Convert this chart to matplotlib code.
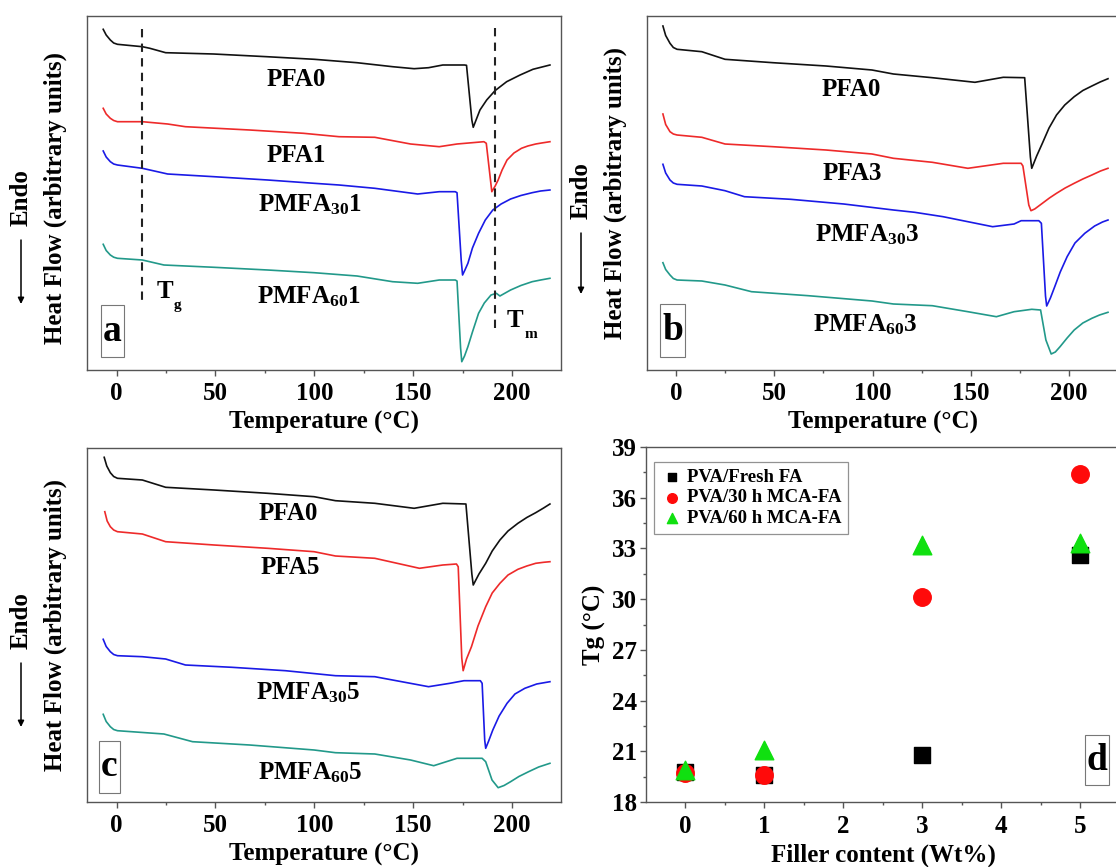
import matplotlib
matplotlib.use("Agg")
import matplotlib.pyplot as plt
from matplotlib.patches import Rectangle
from matplotlib.ticker import MultipleLocator

plt.rcParams.update({
    "font.family": ["Liberation Serif", "DejaVu Serif"],
    "font.weight": "bold",
    "axes.labelweight": "bold",
    "mathtext.fontset": "custom",
    "mathtext.rm": "Liberation Serif:bold",
    "mathtext.it": "Liberation Serif:bold",
    "mathtext.bf": "Liberation Serif:bold",
})

# ---------------- DSC thermograms (heat flow, arbitrary units, stacked) -------------
# Panel a
a_pfa0_T = [-6.8, -5.3, -3.2, -1.5, 0.4, 13, 16.8, 24.8, 49, 76, 100, 121.6, 139.6, 150.5, 157.8, 165,
            176, 177, 179.7, 180.4, 183.8, 187.2, 191.4, 197.3, 204.1, 210.6, 219.2]
a_pfa0_H = [34.07, 33.5, 33.0, 32.7, 32.57, 32.33, 32.17, 31.73, 31.6, 31.33, 31.07, 30.73, 30.33, 30.13,
            30.23, 30.5, 30.5, 30.47, 25.0, 24.27, 26.0, 27.0, 27.93, 28.83, 29.5, 30.07, 30.5]
a_pfa1_T = [-6.8, -5.3, -3.2, -1.5, 0.4, 13, 25.8, 34.8, 67.3, 94.5, 112.5, 130.6, 148.7, 163.2, 172.2,
            185.8, 187, 189.8, 191.5, 193, 195, 197.5, 201, 204.8, 208, 212, 215, 219.2]
a_pfa1_H = [26.17, 25.6, 25.17, 24.95, 24.83, 24.83, 24.6, 24.33, 24.0, 23.67, 23.33, 23.27, 22.6, 22.33,
            22.6, 22.83, 22.67, 17.83, 18.4, 19.0, 20.0, 21.0, 21.7, 22.17, 22.4, 22.6, 22.7, 22.83]
a_pm301_T = [-6.8, -5.3, -3.2, -1.5, 0.4, 13, 25.8, 49.3, 76.4, 99.9, 112.5, 130.6, 152.3, 163.2, 171.3,
             172.2, 174.3, 175, 176.2, 177.7, 180, 183.1, 186.5, 190.3, 194.5, 199.3, 204.5, 210.2,
             214.5, 219.2]
a_pm301_H = [21.9, 21.3, 20.83, 20.6, 20.5, 20.17, 19.6, 19.33, 19.0, 18.67, 18.5, 18.17, 17.6, 17.83,
             17.83, 17.73, 11.0, 9.5, 10.0, 10.67, 12.2, 13.67, 15.0, 16.0, 16.6, 17.1, 17.45, 17.73,
             17.9, 18.0]
a_pm601_T = [-6.8, -5.3, -3.2, -1.5, 0.4, 13, 23.9, 49.3, 76.4, 99.9, 121.6, 139.6, 152.3, 163.2, 171.3,
             172.2, 174.0, 174.6, 176, 177.7, 180, 183.1, 186, 189.4, 192.1, 193.9, 199.3, 204.5,
             210.2, 214.5, 219.2]
a_pm601_H = [12.57, 11.95, 11.5, 11.28, 11.17, 11.0, 10.5, 10.27, 10.0, 9.73, 9.4, 8.83, 8.67, 9.0,
             9.0, 8.9, 2.2, 0.83, 1.4, 2.33, 3.8, 5.67, 6.7, 7.5, 7.67, 7.4, 8.0, 8.45, 8.83, 9.0, 9.17]

# Panel b
b_pfa0_T = [-6.7, -5.3, -3.1, -1.4, 0.5, 13.1, 24.9, 49.3, 76.3, 99.7, 110.6, 130.4, 152.1, 166.5,
            177.4, 180.3, 181, 183.5, 186.4, 189.8, 193.6, 197.8, 202.6, 207, 211.6, 215.8, 219.8]
b_pfa0_H = [34.4, 33.45, 32.67, 32.25, 32.07, 31.83, 31.07, 30.73, 30.4, 30.0, 29.6, 29.23, 28.77, 29.27,
            29.23, 21.3, 20.17, 21.4, 22.67, 24.2, 25.5, 26.5, 27.33, 27.95, 28.4, 28.8, 29.13]
b_pfa3_T = [-6.7, -5.3, -3.1, -1.4, 0.5, 13.1, 24.9, 49.3, 76.3, 99.7, 110.6, 130.4, 148.5, 166.5,
            175.6, 176.5, 179.5, 180.6, 182.5, 186.4, 190, 193.6, 198, 202.6, 207, 211.6, 216, 219.8]
b_pfa3_H = [25.6, 24.55, 23.83, 23.6, 23.5, 23.27, 22.6, 22.33, 22.0, 21.6, 21.17, 20.77, 20.17, 20.67,
            20.67, 20.4, 16.5, 15.93, 16.1, 16.67, 17.2, 17.67, 18.2, 18.67, 19.1, 19.5, 19.9, 20.17]
b_pm303_T = [-6.7, -5.3, -3.1, -1.4, 0.5, 13.1, 24.9, 34.8, 58.3, 85.3, 110.6, 121.4, 135.9, 161.1, 172,
             175.6, 184.6, 185.9, 188.0, 188.6, 190.5, 192.7, 195.5, 199, 203, 208, 213, 217, 219.8]
b_pm303_H = [20.57, 19.7, 19.0, 18.7, 18.57, 18.4, 17.93, 17.33, 17.07, 16.6, 16.0, 15.77, 15.33, 14.33,
             14.6, 14.93, 14.93, 14.67, 7.4, 6.4, 7.2, 8.33, 9.8, 11.33, 12.7, 13.67, 14.4, 14.8, 15.0]
b_pm603_T = [-6.7, -5.3, -3.1, -1.4, 0.5, 13.1, 24.9, 38.4, 67.3, 99.7, 110.6, 130.4, 148.5, 163, 172,
             181, 185.5, 188.2, 190.9, 193, 195.4, 199, 202.6, 207, 211.6, 215.5, 219.8]
b_pm603_H = [10.73, 10.05, 9.5, 9.15, 9.0, 8.9, 8.5, 7.83, 7.43, 6.9, 6.6, 6.43, 5.83, 5.33, 5.83, 6.07,
             6.0, 3.0, 1.6, 1.8, 2.33, 3.2, 4.0, 4.7, 5.17, 5.5, 5.77]

# Panel c
c_pfa0_T = [-6.3, -5.0, -3.2, -1.5, 0.4, 13, 24.8, 49.3, 76.4, 99.9, 110.7, 130.6, 150.5, 165, 176.7,
            179.7, 180.4, 183.3, 186.7, 190, 193.9, 198, 203, 207.5, 212, 216, 219.2]
c_pfa0_H = [34.47, 33.6, 32.93, 32.55, 32.37, 32.2, 31.47, 31.2, 30.87, 30.53, 30.13, 29.87, 29.37,
            29.87, 29.8, 22.8, 21.7, 22.8, 23.87, 25.1, 26.2, 27.1, 27.87, 28.45, 28.93, 29.4, 29.8]
c_pfa5_T = [-6.0, -4.8, -3.2, -1.5, 0.4, 13, 24.8, 49.3, 76.4, 99.9, 110.7, 130.6, 153.2, 165, 171.9,
            172.8, 174.6, 175.3, 177, 179.5, 182.8, 186.7, 190, 193.9, 198, 203, 207.5, 212, 216, 219.2]
c_pfa5_H = [29.03, 28.1, 27.53, 27.2, 27.03, 26.8, 26.03, 25.7, 25.37, 25.03, 24.6, 24.37, 23.37, 23.7,
            23.8, 23.53, 14.4, 13.13, 14.3, 15.53, 17.6, 19.53, 20.9, 21.87, 22.7, 23.27, 23.6, 23.87,
            23.97, 24.03]
c_pm305_T = [-6.8, -5.3, -3.2, -1.5, 0.4, 13, 24.8, 34.8, 58.3, 85.4, 110.7, 130.6, 157.8, 168.6, 175.7,
             184, 184.9, 186.2, 186.7, 188.2, 190.3, 193.5, 197.5, 201.5, 206.5, 212.5, 219.2]
c_pm305_H = [16.27, 15.55, 15.03, 14.75, 14.63, 14.53, 14.3, 13.7, 13.47, 13.13, 12.63, 12.53, 11.53,
             11.87, 12.13, 12.13, 11.87, 6.2, 5.37, 6.1, 7.2, 8.6, 9.87, 10.8, 11.37, 11.8, 12.03]
c_pm605_T = [-6.8, -5.3, -3.2, -1.5, 0.4, 23.9, 38.4, 67.3, 99.9, 110.7, 130.6, 148.7, 160.4, 172.2,
             184.9, 186.7, 189.9, 193, 196, 199.3, 203.5, 208.4, 213.5, 219.2]
c_pm605_H = [8.77, 8.05, 7.53, 7.25, 7.13, 6.8, 6.03, 5.7, 5.2, 4.93, 4.8, 4.2, 3.63, 4.37, 4.37, 4.03,
             2.2, 1.43, 1.65, 2.03, 2.55, 3.03, 3.5, 3.87]

# Transition markers in panel a
tg_temp = 13.0
tm_temp = 191.3

# ---------------- Tg vs filler content -------------
filler = [0, 1, 3, 5]
tg_fresh = [19.8, 19.6, 20.8, 32.6]
tg_mca30 = [19.7, 19.6, 30.1, 37.4]
tg_mca60 = [19.9, 21.1, 33.2, 33.3]
legend_labels = ["PVA/Fresh FA", "PVA/30 h MCA-FA", "PVA/60 h MCA-FA"]

C_BLACK, C_RED, C_BLUE, C_TEAL = "#111111", "#ee2a2a", "#1a1ae6", "#22998a"
SPINE = "#555555"

W, H = 1116, 867
fig = plt.figure(figsize=(W / 100, H / 100), dpi=100)


def rect(l, t, r, b):
    return [l / W, 1 - b / H, (r - l) / W, (b - t) / H]


def style_dsc(ax, x0, x1, hide_right=False):
    ax.set_xlim(x0, x1)
    ax.set_ylim(0, 35.4)
    ax.set_yticks([])
    ax.xaxis.set_major_locator(MultipleLocator(50))
    ax.xaxis.set_minor_locator(MultipleLocator(25))
    ax.tick_params(axis="x", which="major", direction="out", length=4, width=1, labelsize=18, pad=5,
                   colors=SPINE, labelcolor="black")
    ax.tick_params(axis="x", which="minor", direction="out", length=2.5, width=1, colors=SPINE)
    for s in ax.spines.values():
        s.set_color(SPINE)
        s.set_linewidth(1.0)
    if hide_right:
        ax.spines["right"].set_visible(False)
    ax.set_xlabel("Temperature (\u00b0C)", fontsize=18, labelpad=4)
    for lab in ax.get_xticklabels():
        lab.set_fontweight("bold")


def panel_box(ax, letter, cx, cy, w, h):
    ax.add_patch(Rectangle((cx - w / 2, cy - h / 2), w, h, transform=ax.transAxes, fill=False,
                           ec="#777777", lw=0.8, zorder=5))
    ax.text(cx, cy, letter, transform=ax.transAxes, ha="center", va="center", fontsize=27,
            fontweight="bold", zorder=6)


def side_labels(xendo, xhf, ycenter, arrow_top, arrow_bot):
    fig.text(xhf / W, 1 - ycenter / H, "Heat Flow (arbitrary units)", rotation=90, ha="center",
             va="center", fontsize=18, fontweight="bold")
    fig.text(xendo / W, 1 - (arrow_top - 42) / H, "Endo", rotation=90, ha="center", va="center",
             fontsize=18, fontweight="bold")
    ax_a.annotate("", xy=(xendo, H - arrow_bot), xytext=(xendo, H - arrow_top),
                  xycoords="figure pixels", textcoords="figure pixels", annotation_clip=False,
                  arrowprops=dict(arrowstyle="-|>", lw=1.1, color="black", mutation_scale=9,
                                  shrinkA=0, shrinkB=0))


def sub_label(ax, x, y, main, sub):
    t = ax.text(x, y, main, fontsize=18, ha="left", va="baseline")
    ax.annotate(sub, xy=(1, 0), xycoords=t, xytext=(0.5, -4), textcoords="offset points",
                fontsize=11, ha="left", va="baseline")


# ---- panel a ----
ax_a = fig.add_axes(rect(87, 16, 561, 370))
for T, Hf, c in [(a_pfa0_T, a_pfa0_H, C_BLACK), (a_pfa1_T, a_pfa1_H, C_RED),
                 (a_pm301_T, a_pm301_H, C_BLUE), (a_pm601_T, a_pm601_H, C_TEAL)]:
    ax_a.plot(T, Hf, color=c, lw=1.2)
ax_a.plot([tg_temp, tg_temp], [34.1, 7.0], color="#222222", lw=1.5, ls=(0, (4, 3)))
ax_a.plot([tm_temp, tm_temp], [34.2, 4.0], color="#222222", lw=1.5, ls=(0, (4, 3)))
sub_label(ax_a, 20.0, 7.2, "T", "g")
sub_label(ax_a, 197.5, 4.3, "T", "m")
for txt, x, y in [("PFA0", 90.7, 29.0), ("PFA1", 90.7, 21.5),
                  (r"PMFA$_\mathregular{30}$1", 98, 16.5), (r"PMFA$_\mathregular{60}$1", 97, 7.3)]:
    ax_a.text(x, y, txt, fontsize=18, ha="center", va="center")
style_dsc(ax_a, -15.0, 224.8)
panel_box(ax_a, "a", 0.054, 0.11, 0.048, 0.147)

# ---- panel b ----
ax_b = fig.add_axes(rect(647, 16, 1120, 370))
for T, Hf, c in [(b_pfa0_T, b_pfa0_H, C_BLACK), (b_pfa3_T, b_pfa3_H, C_RED),
                 (b_pm303_T, b_pm303_H, C_BLUE), (b_pm603_T, b_pm603_H, C_TEAL)]:
    ax_b.plot(T, Hf, color=c, lw=1.2)
for txt, x, y in [("PFA0", 88.9, 28.0), ("PFA3", 89.8, 19.7),
                  (r"PMFA$_\mathregular{30}$3", 97, 13.5), (r"PMFA$_\mathregular{60}$3", 96, 4.5)]:
    ax_b.text(x, y, txt, fontsize=18, ha="center", va="center")
style_dsc(ax_b, -14.8, -14.8 + (1120 - 647) / 1.965, hide_right=True)
panel_box(ax_b, "b", 0.054, 0.112, 0.053, 0.15)

# ---- panel c ----
ax_c = fig.add_axes(rect(87, 448, 561, 802))
for T, Hf, c in [(c_pfa0_T, c_pfa0_H, C_BLACK), (c_pfa5_T, c_pfa5_H, C_RED),
                 (c_pm305_T, c_pm305_H, C_BLUE), (c_pm605_T, c_pm605_H, C_TEAL)]:
    ax_c.plot(T, Hf, color=c, lw=1.2)
for txt, x, y in [("PFA0", 87, 28.9), ("PFA5", 88, 23.4),
                  (r"PMFA$_\mathregular{30}$5", 97, 10.9), (r"PMFA$_\mathregular{60}$5", 98, 2.9)]:
    ax_c.text(x, y, txt, fontsize=18, ha="center", va="center")
style_dsc(ax_c, -15.0, 224.8)
panel_box(ax_c, "c", 0.047, 0.10, 0.044, 0.147)

side_labels(21, 55, 198, 240, 304)
side_labels(581, 615, 193, 233, 294)
side_labels(21, 55, 625, 663, 727)

# ---- panel d ----
ax_d = fig.add_axes(rect(646, 447, 1120, 802))
ax_d.scatter(filler, tg_fresh, marker="s", s=13 ** 2 * 0.8, color="black", label=legend_labels[0], zorder=3)
ax_d.scatter(filler, tg_mca30, marker="o", s=16 ** 2 * 0.62, color="#ff0a0a", label=legend_labels[1], zorder=4)
ax_d.scatter(filler, tg_mca60, marker="^", s=17 ** 2 * 0.62, color="#10e010", label=legend_labels[2], zorder=5)
ax_d.set_xlim(-0.494, -0.494 + (1120 - 646) / 79.0)
ax_d.set_ylim(18, 39)
ax_d.xaxis.set_major_locator(MultipleLocator(1))
ax_d.xaxis.set_minor_locator(MultipleLocator(0.5))
ax_d.yaxis.set_major_locator(MultipleLocator(3))
ax_d.yaxis.set_minor_locator(MultipleLocator(1.5))
ax_d.tick_params(which="major", direction="out", length=4.5, width=1, labelsize=18, pad=2,
                 colors=SPINE, labelcolor="black")
ax_d.tick_params(which="minor", direction="out", length=2.5, width=1, colors=SPINE)
ax_d.tick_params(axis="x", which="major", pad=5)
for s in ax_d.spines.values():
    s.set_color(SPINE)
    s.set_linewidth(1.0)
ax_d.spines["right"].set_visible(False)
ax_d.set_xlabel("Filler content (Wt%)", fontsize=18, labelpad=4)
ax_d.set_ylabel("Tg (\u00b0C)", fontsize=18, labelpad=4)
for lab in ax_d.get_xticklabels() + ax_d.get_yticklabels():
    lab.set_fontweight("bold")
leg = ax_d.legend(loc="upper left", bbox_to_anchor=(0.017, 0.958), fontsize=13.5, markerscale=0.55,
                  frameon=True, fancybox=False, edgecolor="#777777", borderpad=0.35,
                  labelspacing=0.2, handletextpad=0.2, handlelength=1.2, borderaxespad=0)
leg.get_frame().set_linewidth(0.9)
panel_box(ax_d, "d", 0.951, 0.118, 0.051, 0.141)

fig.savefig("out.png", dpi=100)
